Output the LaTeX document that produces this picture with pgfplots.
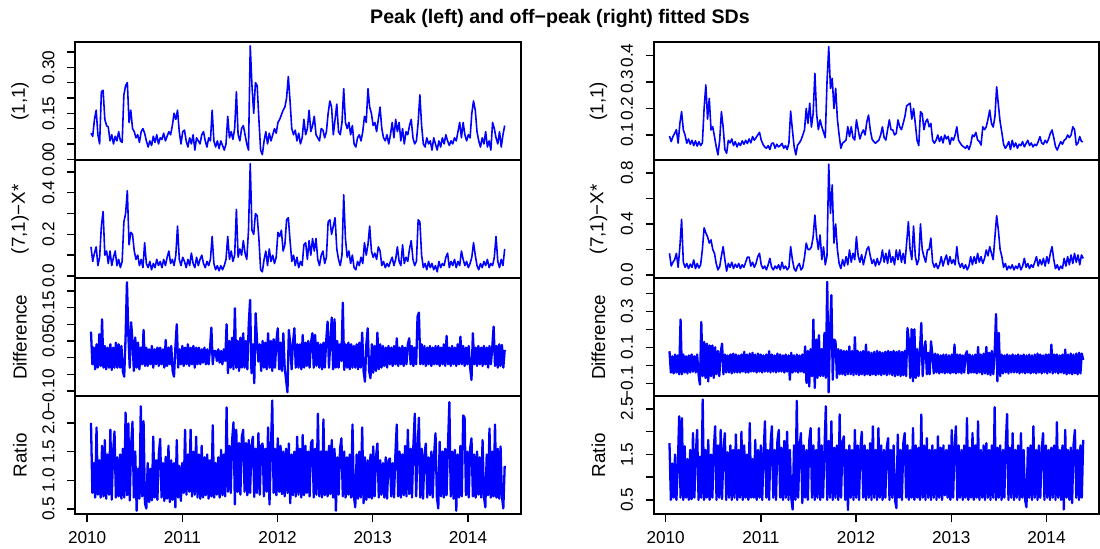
\documentclass[border=0pt]{standalone}
\usepackage{fontspec}
\setmainfont{Liberation Sans}
\usepackage{pgfplots}
\usepackage{pgfplotstable}
\pgfplotsset{compat=1.18}

\newcommand\tickfont{\fontsize{8.6}{10}\selectfont}
\newcommand\labfont{\fontsize{9.4}{11}\selectfont}

% peak, (1,1)
\pgfplotstableread[row sep=\\]{y\\
0.085\\ 0.075\\ 0.13\\ 0.16\\ 0.08\\ 0.05\\ 0.22\\ 0.225\\ 0.13\\ 0.11\\
0.105\\ 0.06\\ 0.08\\ 0.05\\ 0.075\\ 0.06\\ 0.09\\ 0.06\\ 0.055\\ 0.21\\
0.24\\ 0.25\\ 0.12\\ 0.16\\ 0.10\\ 0.09\\ 0.07\\ 0.08\\ 0.055\\ 0.09\\
0.10\\ 0.085\\ 0.06\\ 0.04\\ 0.06\\ 0.045\\ 0.075\\ 0.055\\ 0.08\\ 0.05\\
0.07\\ 0.065\\ 0.085\\ 0.06\\ 0.075\\ 0.09\\ 0.08\\ 0.11\\ 0.15\\ 0.13\\
0.16\\ 0.09\\ 0.05\\ 0.09\\ 0.095\\ 0.06\\ 0.04\\ 0.07\\ 0.05\\ 0.08\\
0.03\\ 0.07\\ 0.06\\ 0.05\\ 0.08\\ 0.09\\ 0.06\\ 0.04\\ 0.07\\ 0.06\\
0.16\\ 0.06\\ 0.04\\ 0.06\\ 0.035\\ 0.06\\ 0.045\\ 0.03\\ 0.05\\ 0.14\\
0.07\\ 0.09\\ 0.065\\ 0.10\\ 0.22\\ 0.08\\ 0.06\\ 0.10\\ 0.11\\ 0.08\\
0.05\\ 0.03\\ 0.37\\ 0.24\\ 0.15\\ 0.25\\ 0.24\\ 0.13\\ 0.03\\ 0.015\\
0.06\\ 0.09\\ 0.05\\ 0.085\\ 0.06\\ 0.08\\ 0.10\\ 0.085\\ 0.12\\ 0.13\\
0.145\\ 0.16\\ 0.17\\ 0.20\\ 0.27\\ 0.19\\ 0.10\\ 0.08\\ 0.095\\ 0.06\\
0.085\\ 0.05\\ 0.07\\ 0.13\\ 0.08\\ 0.10\\ 0.16\\ 0.09\\ 0.11\\ 0.14\\
0.08\\ 0.07\\ 0.06\\ 0.10\\ 0.095\\ 0.07\\ 0.09\\ 0.15\\ 0.19\\ 0.17\\
0.08\\ 0.13\\ 0.18\\ 0.09\\ 0.08\\ 0.12\\ 0.23\\ 0.12\\ 0.10\\ 0.12\\
0.08\\ 0.11\\ 0.05\\ 0.04\\ 0.07\\ 0.08\\ 0.06\\ 0.09\\ 0.14\\ 0.12\\
0.23\\ 0.17\\ 0.15\\ 0.11\\ 0.12\\ 0.09\\ 0.13\\ 0.17\\ 0.10\\ 0.07\\
0.06\\ 0.08\\ 0.05\\ 0.08\\ 0.12\\ 0.07\\ 0.13\\ 0.09\\ 0.12\\ 0.06\\
0.10\\ 0.05\\ 0.09\\ 0.08\\ 0.11\\ 0.13\\ 0.07\\ 0.05\\ 0.06\\ 0.12\\
0.21\\ 0.11\\ 0.05\\ 0.04\\ 0.07\\ 0.05\\ 0.06\\ 0.03\\ 0.07\\ 0.05\\
0.03\\ 0.06\\ 0.04\\ 0.07\\ 0.05\\ 0.08\\ 0.06\\ 0.045\\ 0.06\\ 0.05\\
0.07\\ 0.06\\ 0.09\\ 0.12\\ 0.07\\ 0.12\\ 0.08\\ 0.06\\ 0.08\\ 0.07\\
0.15\\ 0.19\\ 0.16\\ 0.09\\ 0.06\\ 0.04\\ 0.07\\ 0.05\\ 0.09\\ 0.04\\
0.06\\ 0.03\\ 0.12\\ 0.10\\ 0.07\\ 0.05\\ 0.09\\ 0.04\\ 0.08\\ 0.11\\
}\tLa

% peak, (7,1)-X*
\pgfplotstableread[row sep=\\]{y\\
0.14\\ 0.07\\ 0.11\\ 0.14\\ 0.05\\ 0.09\\ 0.24\\ 0.31\\ 0.10\\ 0.12\\
0.06\\ 0.12\\ 0.05\\ 0.09\\ 0.12\\ 0.05\\ 0.08\\ 0.04\\ 0.07\\ 0.26\\
0.30\\ 0.41\\ 0.15\\ 0.21\\ 0.20\\ 0.12\\ 0.08\\ 0.10\\ 0.05\\ 0.08\\
0.04\\ 0.16\\ 0.06\\ 0.04\\ 0.07\\ 0.03\\ 0.06\\ 0.04\\ 0.08\\ 0.05\\
0.07\\ 0.04\\ 0.08\\ 0.05\\ 0.09\\ 0.12\\ 0.06\\ 0.08\\ 0.05\\ 0.10\\
0.24\\ 0.08\\ 0.05\\ 0.09\\ 0.07\\ 0.04\\ 0.08\\ 0.05\\ 0.11\\ 0.06\\
0.04\\ 0.09\\ 0.05\\ 0.08\\ 0.10\\ 0.06\\ 0.04\\ 0.07\\ 0.05\\ 0.08\\
0.19\\ 0.06\\ 0.03\\ 0.05\\ 0.025\\ 0.05\\ 0.03\\ 0.05\\ 0.08\\ 0.19\\
0.08\\ 0.12\\ 0.07\\ 0.10\\ 0.32\\ 0.09\\ 0.13\\ 0.10\\ 0.17\\ 0.11\\
0.08\\ 0.22\\ 0.54\\ 0.22\\ 0.20\\ 0.30\\ 0.29\\ 0.18\\ 0.03\\ 0.02\\
0.08\\ 0.12\\ 0.05\\ 0.13\\ 0.07\\ 0.10\\ 0.06\\ 0.09\\ 0.21\\ 0.19\\
0.22\\ 0.12\\ 0.15\\ 0.27\\ 0.28\\ 0.17\\ 0.07\\ 0.10\\ 0.05\\ 0.09\\
0.04\\ 0.07\\ 0.05\\ 0.15\\ 0.16\\ 0.08\\ 0.17\\ 0.10\\ 0.18\\ 0.12\\
0.18\\ 0.08\\ 0.05\\ 0.10\\ 0.12\\ 0.06\\ 0.09\\ 0.26\\ 0.27\\ 0.20\\
0.24\\ 0.28\\ 0.13\\ 0.08\\ 0.05\\ 0.10\\ 0.39\\ 0.18\\ 0.09\\ 0.12\\
0.06\\ 0.10\\ 0.04\\ 0.03\\ 0.07\\ 0.05\\ 0.09\\ 0.06\\ 0.16\\ 0.10\\
0.15\\ 0.24\\ 0.12\\ 0.09\\ 0.11\\ 0.08\\ 0.14\\ 0.12\\ 0.05\\ 0.07\\
0.04\\ 0.06\\ 0.045\\ 0.07\\ 0.09\\ 0.05\\ 0.08\\ 0.14\\ 0.07\\ 0.05\\
0.15\\ 0.06\\ 0.09\\ 0.07\\ 0.13\\ 0.17\\ 0.08\\ 0.05\\ 0.07\\ 0.27\\
0.26\\ 0.10\\ 0.04\\ 0.06\\ 0.03\\ 0.07\\ 0.04\\ 0.06\\ 0.03\\ 0.05\\
0.02\\ 0.07\\ 0.04\\ 0.06\\ 0.05\\ 0.09\\ 0.11\\ 0.04\\ 0.07\\ 0.05\\
0.08\\ 0.04\\ 0.07\\ 0.05\\ 0.12\\ 0.08\\ 0.05\\ 0.07\\ 0.04\\ 0.06\\
0.09\\ 0.16\\ 0.10\\ 0.05\\ 0.03\\ 0.06\\ 0.04\\ 0.07\\ 0.05\\ 0.08\\
0.04\\ 0.06\\ 0.05\\ 0.09\\ 0.19\\ 0.07\\ 0.04\\ 0.08\\ 0.05\\ 0.13\\
}\tLb

% peak, difference
\pgfplotstableread[row sep=\\]{y\\
0.078\\ -0.02\\ 0.03\\ -0.035\\ 0.04\\ -0.03\\ 0.07\\ -0.025\\ 0.115\\ -0.03\\
0.035\\ -0.035\\ 0.03\\ -0.03\\ 0.04\\ -0.037\\ 0.03\\ -0.03\\ 0.045\\ -0.03\\
0.04\\ -0.03\\ 0.035\\ -0.04\\ -0.057\\ 0.06\\ 0.226\\ 0.068\\ -0.03\\ 0.106\\
0.05\\ -0.04\\ 0.06\\ -0.03\\ 0.045\\ -0.035\\ 0.03\\ -0.02\\ 0.083\\ -0.025\\
0.03\\ -0.025\\ 0.025\\ -0.02\\ 0.035\\ -0.03\\ 0.025\\ -0.02\\ 0.03\\ -0.025\\
0.03\\ -0.02\\ 0.025\\ -0.03\\ 0.053\\ -0.025\\ 0.03\\ -0.02\\ 0.035\\ -0.04\\
-0.057\\ 0.03\\ 0.10\\ -0.03\\ 0.025\\ -0.02\\ 0.035\\ -0.025\\ 0.03\\ -0.02\\
0.04\\ -0.025\\ 0.03\\ -0.02\\ 0.035\\ -0.03\\ 0.03\\ -0.02\\ 0.03\\ -0.02\\
0.025\\ -0.015\\ 0.03\\ -0.02\\ 0.025\\ -0.02\\ 0.025\\ 0.09\\ -0.02\\ 0.02\\
0.02\\ -0.01\\ 0.025\\ -0.015\\ 0.02\\ -0.02\\ 0.025\\ -0.01\\ 0.10\\ -0.047\\
0.05\\ -0.03\\ 0.06\\ -0.035\\ 0.148\\ -0.03\\ 0.05\\ -0.04\\ 0.06\\ -0.03\\
0.073\\ -0.03\\ 0.05\\ -0.035\\ 0.10\\ 0.173\\ -0.047\\ 0.04\\ -0.077\\ 0.133\\
0.05\\ -0.012\\ 0.04\\ -0.04\\ 0.05\\ -0.03\\ 0.045\\ -0.035\\ 0.073\\ -0.03\\
0.05\\ -0.04\\ 0.055\\ -0.03\\ 0.05\\ 0.088\\ -0.035\\ 0.045\\ -0.04\\ 0.073\\
-0.03\\ -0.067\\ -0.104\\ 0.083\\ 0.04\\ -0.035\\ 0.045\\ 0.088\\ -0.03\\ 0.04\\
-0.03\\ 0.04\\ -0.035\\ 0.068\\ -0.03\\ 0.045\\ -0.025\\ 0.05\\ -0.03\\ 0.045\\
0.073\\ -0.03\\ 0.068\\ -0.025\\ 0.045\\ -0.03\\ 0.04\\ -0.035\\ 0.045\\ -0.03\\
0.05\\ 0.108\\ -0.03\\ 0.05\\ 0.12\\ -0.035\\ 0.115\\ -0.03\\ 0.05\\ -0.03\\
0.04\\ -0.01\\ 0.165\\ -0.037\\ 0.04\\ -0.03\\ 0.045\\ -0.035\\ 0.04\\ -0.03\\
0.035\\ -0.03\\ 0.04\\ -0.035\\ 0.045\\ -0.03\\ 0.075\\ -0.04\\ -0.072\\ 0.04\\
0.088\\ -0.04\\ -0.062\\ 0.04\\ -0.045\\ 0.035\\ -0.04\\ 0.075\\ -0.035\\ 0.04\\
-0.03\\ 0.035\\ -0.025\\ 0.03\\ -0.03\\ 0.035\\ -0.02\\ 0.03\\ -0.025\\ 0.035\\
-0.02\\ 0.058\\ -0.025\\ 0.03\\ -0.02\\ 0.035\\ -0.025\\ 0.03\\ -0.02\\ 0.04\\
0.058\\ -0.02\\ 0.035\\ -0.025\\ 0.03\\ -0.02\\ 0.123\\ 0.135\\ -0.02\\ 0.04\\
-0.02\\ 0.035\\ -0.025\\ 0.03\\ -0.02\\ 0.035\\ -0.025\\ 0.03\\ -0.02\\ 0.035\\
-0.02\\ 0.035\\ -0.025\\ 0.03\\ -0.02\\ 0.04\\ -0.025\\ 0.065\\ -0.02\\ 0.03\\
-0.025\\ 0.035\\ -0.02\\ 0.03\\ -0.025\\ 0.04\\ -0.02\\ 0.063\\ -0.02\\ 0.035\\
-0.025\\ 0.03\\ -0.02\\ 0.035\\ -0.03\\ -0.067\\ 0.073\\ -0.02\\ 0.03\\ -0.025\\
0.035\\ -0.02\\ 0.03\\ -0.025\\ 0.035\\ -0.02\\ 0.03\\ -0.03\\ 0.035\\ -0.02\\
0.03\\ 0.093\\ -0.025\\ 0.035\\ -0.03\\ 0.04\\ -0.025\\ 0.038\\ -0.03\\ 0.023\\
}\tLc

% peak, ratio
\pgfplotstableread[row sep=\\]{y\\
2.0\\ 0.78\\ 1.3\\ 0.7\\ 1.92\\ 0.75\\ 1.35\\ 0.7\\ 1.6\\ 0.72\\
1.7\\ 0.68\\ 1.45\\ 0.75\\ 1.88\\ 0.66\\ 1.5\\ 1.85\\ 0.7\\ 1.4\\
0.72\\ 1.45\\ 0.68\\ 1.55\\ 0.7\\ 2.18\\ 0.74\\ 1.99\\ 0.65\\ 1.6\\
2.02\\ 0.7\\ 1.5\\ 0.47\\ 1.2\\ 0.68\\ 2.29\\ 0.72\\ 2.03\\ 0.6\\
0.51\\ 1.3\\ 0.62\\ 1.2\\ 0.65\\ 1.76\\ 0.7\\ 1.35\\ 0.66\\ 1.45\\
1.72\\ 0.7\\ 1.3\\ 0.64\\ 1.41\\ 0.68\\ 1.6\\ 0.62\\ 1.35\\ 0.66\\
1.3\\ 0.53\\ 1.7\\ 0.7\\ 1.25\\ 0.64\\ 1.3\\ 0.78\\ 1.88\\ 0.75\\
1.45\\ 0.8\\ 1.88\\ 0.72\\ 1.5\\ 0.75\\ 1.76\\ 0.7\\ 1.45\\ 0.68\\
1.6\\ 0.7\\ 1.4\\ 0.74\\ 1.45\\ 0.68\\ 1.35\\ 0.72\\ 1.96\\ 0.7\\
1.3\\ 0.75\\ 1.4\\ 0.7\\ 1.53\\ 0.74\\ 1.45\\ 0.72\\ 2.27\\ 0.8\\
1.6\\ 0.78\\ 1.7\\ 2.01\\ 0.58\\ 1.88\\ 0.8\\ 1.65\\ 0.75\\ 1.75\\
1.88\\ 0.8\\ 1.65\\ 0.74\\ 1.7\\ 0.78\\ 1.6\\ 1.76\\ 0.71\\ 1.55\\
0.78\\ 1.82\\ 0.75\\ 1.6\\ 1.64\\ 0.72\\ 1.55\\ 0.8\\ 1.92\\ 0.58\\
1.5\\ 2.39\\ 0.78\\ 1.55\\ 0.74\\ 1.73\\ 0.8\\ 1.6\\ 0.76\\ 1.5\\
0.72\\ 1.55\\ 0.78\\ 1.64\\ 0.6\\ 1.45\\ 0.74\\ 1.5\\ 0.72\\ 1.76\\
0.75\\ 1.55\\ 0.7\\ 1.79\\ 0.74\\ 1.6\\ 0.78\\ 1.5\\ 0.72\\ 1.65\\
1.7\\ 0.7\\ 1.55\\ 0.75\\ 2.16\\ 0.72\\ 1.5\\ 0.7\\ 2.06\\ 0.74\\
1.5\\ 0.72\\ 1.6\\ 0.76\\ 1.7\\ 0.7\\ 1.55\\ 0.47\\ 1.4\\ 0.75\\
1.55\\ 1.73\\ 0.72\\ 1.5\\ 0.7\\ 1.4\\ 0.75\\ 1.45\\ 0.7\\ 1.97\\
0.72\\ 0.53\\ 1.45\\ 0.68\\ 1.5\\ 0.7\\ 1.92\\ 0.6\\ 1.4\\ 0.66\\
1.35\\ 0.7\\ 1.45\\ 0.68\\ 1.59\\ 0.72\\ 1.4\\ 1.64\\ 0.7\\ 1.35\\
0.75\\ 1.3\\ 0.7\\ 1.4\\ 0.68\\ 1.35\\ 1.38\\ 0.72\\ 1.3\\ 0.7\\
1.45\\ 1.97\\ 0.72\\ 1.5\\ 0.7\\ 1.45\\ 0.74\\ 1.6\\ 0.72\\ 1.88\\
0.76\\ 1.55\\ 0.7\\ 1.6\\ 2.16\\ 0.72\\ 1.5\\ 2.09\\ 0.7\\ 1.55\\
0.68\\ 1.45\\ 1.64\\ 0.7\\ 1.4\\ 0.74\\ 1.5\\ 0.7\\ 1.45\\ 1.82\\
0.7\\ 0.51\\ 1.67\\ 0.72\\ 1.5\\ 0.7\\ 1.55\\ 0.74\\ 1.6\\ 2.36\\
0.72\\ 1.5\\ 0.68\\ 1.53\\ 0.47\\ 1.45\\ 0.7\\ 1.6\\ 0.72\\ 2.13\\
2.09\\ 0.74\\ 1.5\\ 0.7\\ 1.55\\ 1.73\\ 0.72\\ 1.45\\ 0.7\\ 1.5\\
0.75\\ 1.4\\ 0.7\\ 1.7\\ 0.72\\ 0.53\\ 1.45\\ 0.74\\ 1.9\\ 0.7\\
1.5\\ 0.72\\ 1.97\\ 0.7\\ 1.55\\ 0.68\\ 1.59\\ 0.72\\ 0.51\\ 1.25\\
}\tLd

% off-peak, (1,1)
\pgfplotstableread[row sep=\\]{y\\
0.096\\ 0.075\\ 0.094\\ 0.106\\ 0.12\\ 0.069\\ 0.144\\ 0.188\\ 0.119\\ 0.10\\
0.069\\ 0.085\\ 0.065\\ 0.08\\ 0.06\\ 0.078\\ 0.058\\ 0.075\\ 0.06\\ 0.07\\
0.20\\ 0.289\\ 0.16\\ 0.238\\ 0.119\\ 0.131\\ 0.094\\ 0.056\\ 0.025\\ 0.08\\
0.188\\ 0.13\\ 0.045\\ 0.031\\ 0.08\\ 0.07\\ 0.085\\ 0.06\\ 0.075\\ 0.055\\
0.07\\ 0.06\\ 0.078\\ 0.065\\ 0.08\\ 0.068\\ 0.085\\ 0.07\\ 0.094\\ 0.08\\
0.09\\ 0.10\\ 0.11\\ 0.081\\ 0.065\\ 0.055\\ 0.05\\ 0.06\\ 0.045\\ 0.068\\
0.07\\ 0.05\\ 0.065\\ 0.055\\ 0.06\\ 0.068\\ 0.05\\ 0.06\\ 0.045\\ 0.07\\
0.19\\ 0.12\\ 0.056\\ 0.025\\ 0.062\\ 0.07\\ 0.081\\ 0.10\\ 0.119\\ 0.20\\
0.144\\ 0.22\\ 0.13\\ 0.182\\ 0.333\\ 0.18\\ 0.12\\ 0.157\\ 0.131\\ 0.11\\
0.09\\ 0.30\\ 0.433\\ 0.276\\ 0.314\\ 0.20\\ 0.276\\ 0.16\\ 0.10\\ 0.05\\
0.069\\ 0.075\\ 0.081\\ 0.131\\ 0.094\\ 0.131\\ 0.09\\ 0.081\\ 0.157\\ 0.12\\
0.085\\ 0.106\\ 0.119\\ 0.10\\ 0.15\\ 0.175\\ 0.119\\ 0.085\\ 0.075\\ 0.069\\
0.075\\ 0.081\\ 0.10\\ 0.131\\ 0.09\\ 0.081\\ 0.12\\ 0.157\\ 0.12\\ 0.119\\
0.10\\ 0.106\\ 0.157\\ 0.131\\ 0.12\\ 0.144\\ 0.17\\ 0.21\\ 0.215\\ 0.22\\
0.16\\ 0.20\\ 0.144\\ 0.081\\ 0.06\\ 0.188\\ 0.18\\ 0.12\\ 0.15\\ 0.16\\
0.131\\ 0.144\\ 0.081\\ 0.069\\ 0.08\\ 0.10\\ 0.075\\ 0.094\\ 0.07\\ 0.10\\
0.085\\ 0.095\\ 0.065\\ 0.09\\ 0.08\\ 0.10\\ 0.131\\ 0.08\\ 0.069\\ 0.06\\
0.055\\ 0.05\\ 0.06\\ 0.045\\ 0.065\\ 0.10\\ 0.094\\ 0.11\\ 0.081\\ 0.075\\
0.062\\ 0.131\\ 0.12\\ 0.131\\ 0.16\\ 0.194\\ 0.144\\ 0.13\\ 0.169\\ 0.282\\
0.213\\ 0.15\\ 0.11\\ 0.065\\ 0.05\\ 0.06\\ 0.075\\ 0.045\\ 0.08\\ 0.055\\
0.07\\ 0.05\\ 0.065\\ 0.06\\ 0.075\\ 0.055\\ 0.068\\ 0.08\\ 0.06\\ 0.07\\
0.055\\ 0.065\\ 0.06\\ 0.075\\ 0.094\\ 0.07\\ 0.065\\ 0.08\\ 0.07\\ 0.085\\
0.106\\ 0.119\\ 0.09\\ 0.056\\ 0.043\\ 0.06\\ 0.075\\ 0.065\\ 0.08\\ 0.085\\
0.10\\ 0.09\\ 0.10\\ 0.131\\ 0.12\\ 0.062\\ 0.07\\ 0.094\\ 0.075\\ 0.075\\
}\tRa

% off-peak, (7,1)-X*
\pgfplotstableread[row sep=\\]{y\\
0.17\\ 0.07\\ 0.10\\ 0.12\\ 0.17\\ 0.06\\ 0.22\\ 0.437\\ 0.10\\ 0.06\\
0.09\\ 0.05\\ 0.085\\ 0.06\\ 0.118\\ 0.05\\ 0.09\\ 0.055\\ 0.08\\ 0.20\\
0.37\\ 0.33\\ 0.30\\ 0.25\\ 0.275\\ 0.20\\ 0.17\\ 0.09\\ 0.04\\ 0.065\\
0.15\\ 0.222\\ 0.12\\ 0.03\\ 0.09\\ 0.06\\ 0.10\\ 0.05\\ 0.085\\ 0.06\\
0.09\\ 0.05\\ 0.08\\ 0.06\\ 0.10\\ 0.14\\ 0.14\\ 0.07\\ 0.10\\ 0.06\\
0.09\\ 0.144\\ 0.17\\ 0.08\\ 0.05\\ 0.07\\ 0.04\\ 0.08\\ 0.13\\ 0.06\\
0.04\\ 0.07\\ 0.05\\ 0.08\\ 0.04\\ 0.10\\ 0.05\\ 0.07\\ 0.04\\ 0.06\\
0.222\\ 0.12\\ 0.05\\ 0.03\\ 0.07\\ 0.09\\ 0.04\\ 0.06\\ 0.14\\ 0.25\\
0.20\\ 0.20\\ 0.22\\ 0.30\\ 0.47\\ 0.30\\ 0.20\\ 0.314\\ 0.12\\ 0.22\\
0.08\\ 0.15\\ 0.87\\ 0.484\\ 0.706\\ 0.25\\ 0.40\\ 0.20\\ 0.09\\ 0.05\\
0.12\\ 0.07\\ 0.144\\ 0.08\\ 0.196\\ 0.10\\ 0.17\\ 0.12\\ 0.30\\ 0.15\\
0.10\\ 0.16\\ 0.08\\ 0.14\\ 0.20\\ 0.222\\ 0.15\\ 0.09\\ 0.12\\ 0.07\\
0.13\\ 0.08\\ 0.11\\ 0.196\\ 0.10\\ 0.17\\ 0.09\\ 0.196\\ 0.10\\ 0.144\\
0.08\\ 0.196\\ 0.12\\ 0.196\\ 0.10\\ 0.17\\ 0.09\\ 0.25\\ 0.418\\ 0.20\\
0.12\\ 0.384\\ 0.15\\ 0.08\\ 0.12\\ 0.40\\ 0.20\\ 0.144\\ 0.10\\ 0.196\\
0.20\\ 0.29\\ 0.10\\ 0.06\\ 0.09\\ 0.05\\ 0.08\\ 0.144\\ 0.07\\ 0.12\\
0.157\\ 0.08\\ 0.144\\ 0.09\\ 0.12\\ 0.08\\ 0.222\\ 0.10\\ 0.06\\ 0.09\\
0.05\\ 0.08\\ 0.04\\ 0.07\\ 0.144\\ 0.08\\ 0.144\\ 0.09\\ 0.17\\ 0.10\\
0.144\\ 0.09\\ 0.13\\ 0.196\\ 0.15\\ 0.222\\ 0.17\\ 0.12\\ 0.30\\ 0.465\\
0.35\\ 0.20\\ 0.144\\ 0.06\\ 0.09\\ 0.04\\ 0.07\\ 0.05\\ 0.08\\ 0.04\\
0.07\\ 0.05\\ 0.09\\ 0.04\\ 0.07\\ 0.13\\ 0.06\\ 0.09\\ 0.05\\ 0.08\\
0.06\\ 0.10\\ 0.144\\ 0.07\\ 0.12\\ 0.08\\ 0.13\\ 0.07\\ 0.144\\ 0.09\\
0.17\\ 0.222\\ 0.12\\ 0.05\\ 0.08\\ 0.04\\ 0.07\\ 0.05\\ 0.13\\ 0.07\\
0.144\\ 0.08\\ 0.157\\ 0.09\\ 0.17\\ 0.10\\ 0.157\\ 0.08\\ 0.157\\ 0.13\\
}\tRb

% off-peak, difference
\pgfplotstableread[row sep=\\]{y\\
0.078\\ -0.04\\ 0.05\\ -0.045\\ 0.06\\ -0.04\\ 0.055\\ -0.05\\ 0.254\\ -0.05\\
0.06\\ -0.04\\ 0.05\\ -0.045\\ 0.055\\ -0.04\\ 0.06\\ -0.035\\ 0.05\\ -0.04\\
0.06\\ -0.05\\ -0.107\\ 0.24\\ -0.06\\ 0.13\\ -0.07\\ 0.12\\ -0.09\\ 0.11\\
-0.06\\ 0.11\\ -0.07\\ 0.10\\ -0.05\\ 0.08\\ -0.06\\ 0.07\\ 0.12\\ -0.05\\
0.06\\ -0.04\\ 0.055\\ -0.04\\ 0.06\\ -0.045\\ 0.065\\ -0.04\\ 0.06\\ -0.04\\
0.055\\ -0.04\\ 0.06\\ -0.035\\ 0.075\\ -0.04\\ 0.06\\ -0.04\\ 0.065\\ -0.035\\
0.07\\ -0.035\\ 0.06\\ -0.04\\ 0.065\\ -0.035\\ 0.06\\ -0.04\\ 0.055\\ -0.035\\
0.06\\ -0.035\\ 0.078\\ -0.04\\ 0.06\\ -0.035\\ 0.055\\ -0.04\\ 0.065\\ -0.035\\
0.06\\ -0.035\\ 0.055\\ -0.04\\ 0.06\\ -0.035\\ 0.055\\ -0.08\\ 0.069\\ -0.04\\
0.055\\ -0.035\\ 0.06\\ -0.04\\ 0.055\\ -0.035\\ 0.06\\ -0.04\\ 0.105\\ -0.098\\
0.08\\ -0.117\\ 0.09\\ -0.06\\ 0.254\\ -0.126\\ 0.143\\ -0.07\\ 0.167\\ -0.06\\
0.09\\ -0.06\\ 0.18\\ -0.07\\ 0.463\\ -0.15\\ 0.18\\ 0.389\\ -0.08\\ 0.143\\
0.133\\ -0.07\\ 0.09\\ -0.05\\ 0.085\\ -0.05\\ 0.08\\ -0.055\\ 0.08\\ -0.05\\
0.105\\ -0.05\\ 0.08\\ -0.055\\ 0.156\\ -0.05\\ 0.08\\ -0.055\\ 0.075\\ -0.05\\
0.08\\ -0.055\\ 0.115\\ -0.05\\ 0.075\\ -0.055\\ 0.07\\ -0.05\\ 0.075\\ -0.055\\
0.08\\ -0.05\\ 0.075\\ -0.055\\ 0.07\\ -0.05\\ 0.075\\ -0.055\\ 0.08\\ -0.05\\
0.075\\ -0.055\\ 0.08\\ -0.06\\ 0.075\\ -0.055\\ 0.08\\ -0.06\\ 0.075\\ -0.055\\
0.08\\ -0.06\\ 0.207\\ 0.133\\ -0.07\\ 0.20\\ -0.089\\ 0.20\\ -0.07\\ 0.09\\
-0.06\\ 0.08\\ 0.235\\ -0.06\\ 0.08\\ 0.133\\ -0.05\\ 0.07\\ -0.05\\ 0.133\\
0.06\\ -0.045\\ 0.065\\ -0.04\\ 0.06\\ -0.045\\ 0.055\\ -0.04\\ 0.06\\ -0.045\\
0.06\\ -0.04\\ 0.055\\ -0.045\\ 0.06\\ -0.04\\ 0.115\\ -0.045\\ 0.06\\ -0.04\\
0.06\\ -0.045\\ 0.055\\ -0.04\\ 0.06\\ 0.078\\ -0.045\\ 0.06\\ -0.04\\ 0.055\\
-0.04\\ 0.06\\ -0.045\\ 0.102\\ -0.04\\ 0.06\\ -0.05\\ 0.065\\ -0.045\\ 0.102\\
-0.05\\ 0.07\\ -0.055\\ 0.08\\ -0.05\\ 0.07\\ 0.285\\ -0.089\\ 0.18\\ -0.06\\
0.06\\ -0.045\\ 0.055\\ -0.04\\ 0.06\\ -0.045\\ 0.055\\ -0.04\\ 0.06\\ -0.04\\
0.055\\ -0.04\\ 0.06\\ -0.045\\ 0.055\\ -0.04\\ 0.06\\ -0.045\\ 0.055\\ -0.04\\
0.06\\ -0.045\\ 0.055\\ -0.04\\ 0.06\\ -0.045\\ 0.065\\ -0.04\\ 0.06\\ -0.045\\
0.055\\ -0.04\\ 0.06\\ -0.045\\ 0.06\\ -0.04\\ 0.115\\ -0.045\\ 0.06\\ -0.04\\
0.06\\ -0.045\\ 0.055\\ -0.04\\ 0.06\\ -0.045\\ 0.087\\ -0.05\\ 0.06\\ -0.045\\
0.065\\ -0.05\\ 0.06\\ -0.045\\ 0.065\\ -0.05\\ 0.07\\ -0.045\\ 0.065\\ 0.03\\
}\tRc

% off-peak, ratio
\pgfplotstableread[row sep=\\]{y\\
1.75\\ 0.5\\ 1.3\\ 0.55\\ 1.5\\ 0.5\\ 1.2\\ 2.34\\ 0.55\\ 2.3\\
0.5\\ 1.68\\ 0.55\\ 1.4\\ 0.5\\ 1.6\\ 0.52\\ 1.97\\ 0.55\\ 1.5\\
2.04\\ 0.5\\ 1.45\\ 0.55\\ 2.71\\ 0.5\\ 1.6\\ 0.55\\ 1.82\\ 0.5\\
1.5\\ 0.55\\ 1.6\\ 2.12\\ 0.5\\ 1.7\\ 0.55\\ 2.04\\ 0.52\\ 1.6\\
1.97\\ 0.5\\ 1.55\\ 0.55\\ 1.7\\ 0.5\\ 1.6\\ 0.55\\ 1.94\\ 0.5\\
1.6\\ 0.55\\ 2.0\\ 0.5\\ 1.7\\ 0.55\\ 1.5\\ 0.5\\ 2.19\\ 0.55\\
1.4\\ 0.55\\ 1.82\\ 0.5\\ 1.6\\ 0.55\\ 1.7\\ 0.5\\ 1.5\\ 2.23\\
0.55\\ 1.6\\ 0.5\\ 1.7\\ 2.12\\ 0.55\\ 1.6\\ 0.5\\ 1.8\\ 2.04\\
0.55\\ 1.65\\ 0.5\\ 1.8\\ 0.55\\ 2.0\\ 0.5\\ 1.6\\ 0.55\\ 0.29\\
1.7\\ 0.5\\ 2.68\\ 0.55\\ 1.65\\ 1.97\\ 0.43\\ 1.7\\ 0.55\\ 1.6\\
0.5\\ 1.8\\ 2.08\\ 0.55\\ 1.7\\ 0.5\\ 1.6\\ 0.55\\ 2.08\\ 0.5\\
1.7\\ 0.55\\ 1.6\\ 2.56\\ 0.5\\ 1.8\\ 0.55\\ 2.23\\ 0.5\\ 1.65\\
0.55\\ 1.7\\ 0.5\\ 2.38\\ 0.55\\ 1.75\\ 1.9\\ 0.5\\ 1.6\\ 0.28\\
1.7\\ 0.55\\ 1.6\\ 0.5\\ 2.04\\ 0.55\\ 1.7\\ 0.5\\ 1.65\\ 2.0\\
0.55\\ 1.7\\ 0.5\\ 1.6\\ 0.55\\ 1.75\\ 0.5\\ 2.12\\ 0.55\\ 1.6\\
0.5\\ 2.08\\ 0.55\\ 1.7\\ 0.5\\ 1.6\\ 0.55\\ 1.65\\ 1.86\\ 0.5\\
1.6\\ 0.55\\ 1.7\\ 0.5\\ 0.32\\ 1.94\\ 0.55\\ 1.6\\ 0.5\\ 1.75\\
1.97\\ 0.55\\ 1.7\\ 0.5\\ 1.6\\ 0.55\\ 2.08\\ 0.5\\ 1.7\\ 0.55\\
1.65\\ 0.5\\ 2.38\\ 0.55\\ 1.7\\ 0.5\\ 1.86\\ 0.55\\ 1.6\\ 0.5\\
1.7\\ 0.55\\ 1.6\\ 0.5\\ 1.9\\ 0.55\\ 1.65\\ 0.5\\ 1.7\\ 0.6\\
1.6\\ 0.55\\ 1.7\\ 0.5\\ 2.04\\ 0.55\\ 1.65\\ 2.12\\ 0.5\\ 1.7\\
0.55\\ 1.6\\ 0.5\\ 1.7\\ 0.55\\ 2.3\\ 0.5\\ 1.65\\ 0.55\\ 1.97\\
0.5\\ 1.7\\ 0.55\\ 2.23\\ 0.5\\ 1.6\\ 0.55\\ 1.7\\ 0.5\\ 1.75\\
0.55\\ 1.6\\ 0.5\\ 1.7\\ 0.55\\ 2.54\\ 0.5\\ 1.65\\ 0.55\\ 1.7\\
0.5\\ 1.6\\ 0.55\\ 1.7\\ 2.39\\ 0.5\\ 1.65\\ 0.55\\ 1.97\\ 0.5\\
1.6\\ 0.55\\ 1.7\\ 0.5\\ 1.97\\ 0.55\\ 1.6\\ 0.5\\ 0.34\\ 1.65\\
0.55\\ 1.7\\ 0.5\\ 2.12\\ 0.55\\ 1.6\\ 0.5\\ 1.7\\ 0.55\\ 1.6\\
1.97\\ 0.5\\ 1.7\\ 0.55\\ 1.6\\ 0.5\\ 1.65\\ 0.55\\ 1.7\\ 0.5\\
2.21\\ 0.55\\ 1.6\\ 0.5\\ 1.7\\ 0.29\\ 2.04\\ 0.55\\ 1.6\\ 0.5\\
1.65\\ 0.43\\ 1.7\\ 2.04\\ 0.55\\ 1.6\\ 0.5\\ 1.7\\ 0.55\\ 1.82\\
}\tRd

\pgfplotsset{
  panel/.style={
    scale only axis, width=223pt, height=59pt,
    anchor=south west,
    xmin=2009.872, xmax=2014.557,
    axis line style={line width=1pt},
    tick style={black, line width=0.7pt},
    tick align=outside, major tick length=4pt,
    tick pos=left,
    xtick=\empty,
    scaled y ticks=false,
    yticklabel style={rotate=90, anchor=south, inner sep=0pt, font=\tickfont},
    yticklabel shift=6pt,
    every axis y label/.style={at={(axis description cs:-0.1233,0.5)}, rotate=90, anchor=center, font=\labfont},
  },
  bottom/.style={
    xtick={2010,2011,2012,2013,2014},
    xticklabels={2010,2011,2012,2013,2014},
    xticklabel style={anchor=north, inner sep=0pt, font=\tickfont},
    xticklabel shift=4.5pt,
  },
  sd/.style={blue, mark=none, line width=0.8pt, line join=round},
  band/.style={blue, mark=none, line width=1.15pt, line join=round},
}

\begin{document}
\begin{tikzpicture}
\path[use as bounding box] (0,0) rectangle (550pt,274.5pt);
\node[font=\fontsize{9.8}{12}\selectfont\bfseries] at (280pt,265.5pt) {Peak (left) and off−peak (right) fitted SDs};

% left column: peak
\begin{axis}[panel, at={(37.5pt,194.35pt)},
  ymin=-0.0033, ymax=0.3815,
  ytick={0,0.05,0.1,0.15,0.2,0.25,0.3,0.35}, yticklabels={0.00,,,0.15,,,0.30,},
  ylabel={(1,1)}]
\addplot[sd] table[x expr=2010.04+\coordindex*0.018184, y=y] {\tLa};
\end{axis}
\begin{axis}[panel, at={(37.5pt,135.35pt)},
  ymin=-0.011, ymax=0.556,
  ytick={0,0.1,0.2,0.3,0.4,0.5}, yticklabels={0.0,,0.2,,0.4,},
  ylabel={(7,1)−X*}]
\addplot[sd] table[x expr=2010.04+\coordindex*0.018184, y=y] {\tLb};
\end{axis}
\begin{axis}[panel, at={(37.5pt,76.35pt)},
  ymin=-0.116, ymax=0.238,
  ytick={-0.1,-0.05,0,0.05,0.1,0.15,0.2}, yticklabels={−0.10,,,0.05,,0.15,},
  ylabel={Difference}]
\addplot[band] table[x expr=2010.04+\coordindex*0.014535, y=y] {\tLc};
\end{axis}
\begin{axis}[panel, bottom, at={(37.5pt,17.35pt)},
  ymin=0.408, ymax=2.463,
  ytick={0.5,1,1.5,2}, yticklabels={0.5,1.0,1.5,2.0},
  ylabel={Ratio}]
\addplot[band] table[x expr=2010.04+\coordindex*0.014535, y=y] {\tLd};
\end{axis}

% right column: off-peak
\begin{axis}[panel, at={(326.75pt,194.35pt)},
  ymin=0.0045, ymax=0.45,
  ytick={0.1,0.2,0.3,0.4}, yticklabels={0.1,0.2,0.3,0.4},
  ylabel={(1,1)}]
\addplot[sd] table[x expr=2010.04+\coordindex*0.018184, y=y] {\tRa};
\end{axis}
\begin{axis}[panel, at={(326.75pt,135.35pt)},
  ymin=-0.026, ymax=0.9,
  ytick={0,0.2,0.4,0.6,0.8}, yticklabels={0.0,,0.4,,0.8},
  ylabel={(7,1)−X*}]
\addplot[sd] table[x expr=2010.04+\coordindex*0.018184, y=y] {\tRb};
\end{axis}
\begin{axis}[panel, at={(326.75pt,76.35pt)},
  ymin=-0.172, ymax=0.483,
  ytick={-0.1,0,0.1,0.2,0.3,0.4}, yticklabels={−0.1,,0.1,,0.3,},
  ylabel={Difference}]
\addplot[band] table[x expr=2010.04+\coordindex*0.014535, y=y] {\tRc};
\end{axis}
\begin{axis}[panel, bottom, at={(326.75pt,17.35pt)},
  ymin=0.184, ymax=2.78,
  ytick={0.5,1,1.5,2,2.5}, yticklabels={0.5,,1.5,,2.5},
  ylabel={Ratio}]
\addplot[band] table[x expr=2010.04+\coordindex*0.014535, y=y] {\tRd};
\end{axis}
\end{tikzpicture}
\end{document}
